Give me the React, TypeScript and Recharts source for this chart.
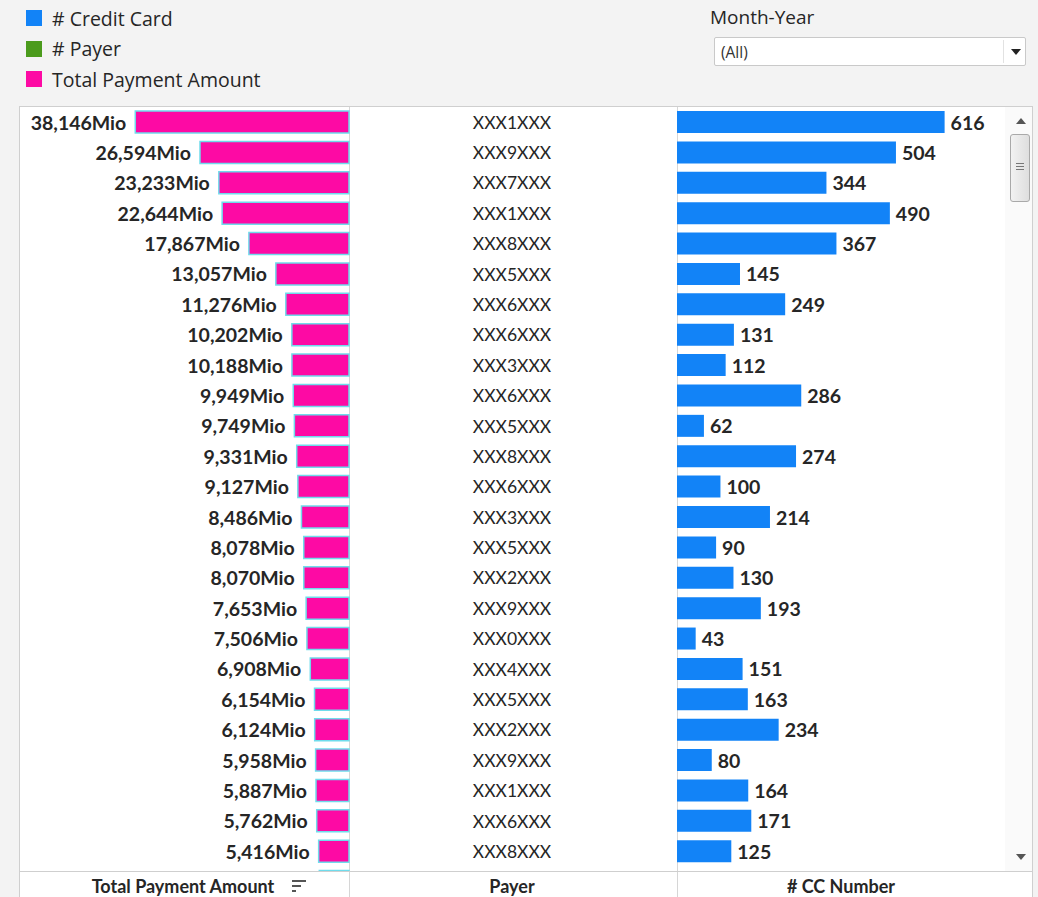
import React from "react";
import { BarChart, Bar, XAxis, YAxis, LabelList } from "recharts";

const payers = [
  "XXX1XXX", "XXX9XXX", "XXX7XXX", "XXX1XXX", "XXX8XXX", "XXX5XXX", "XXX6XXX",
  "XXX6XXX", "XXX3XXX", "XXX6XXX", "XXX5XXX", "XXX8XXX", "XXX6XXX", "XXX3XXX",
  "XXX5XXX", "XXX2XXX", "XXX9XXX", "XXX0XXX", "XXX4XXX", "XXX5XXX", "XXX2XXX",
  "XXX9XXX", "XXX1XXX", "XXX6XXX", "XXX8XXX", "",
];
// Total payment amount, in Mio
const paymentAmounts = [
  38146, 26594, 23233, 22644, 17867, 13057, 11276, 10202, 10188, 9949, 9749,
  9331, 9127, 8486, 8078, 8070, 7653, 7506, 6908, 6154, 6124, 5958, 5887, 5762,
  5416, 5300,
];
// # CC Number
const ccCounts = [
  616, 504, 344, 490, 367, 145, 249, 131, 112, 286, 62, 274, 100, 214, 90, 130,
  193, 43, 151, 163, 234, 80, 164, 171, 125, null,
];

const legendItems = [
  { label: "# Credit Card", color: "#1283f7" },
  { label: "# Payer", color: "#4b9b1c" },
  { label: "Total Payment Amount", color: "#fd0aa4" },
];

const headerLabels = ["Total Payment Amount", "Payer", "# CC Number"];

const rows = payers.map((p, i) => ({
  id: String(i),
  payer: p,
  amount: paymentAmounts[i],
  cc: ccCounts[i],
}));

const PINK = "#fd0aa4";
const CYAN = "#6fdcec";
const BLUE = "#1283f7";
const TEXT = "#262626";
const DATA_FONT = "Lato, 'Open Sans', sans-serif";
const UI_FONT = "'Open Sans', 'Noto Sans', sans-serif";

const CHART_H = 790;

const LeftLabel = (props: any) => {
  const { x, y, width, height, value, index } = props;
  if (value == null || !payers[index]) return null;
  const left = Math.min(x, x + width);
  return (
    <text
      x={left - 9}
      y={y + height / 2}
      textAnchor="end"
      dominantBaseline="central"
      fontFamily={DATA_FONT}
      fontWeight={700}
      fontSize={19.5}
      fill={TEXT}
    >
      {`${Number(value).toLocaleString("en-US")}Mio`}
    </text>
  );
};

const RightLabel = (props: any) => {
  const { x, y, width, height, value } = props;
  if (value == null) return null;
  const right = Math.max(x, x + width);
  return (
    <text
      x={right + 6}
      y={y + height / 2}
      textAnchor="start"
      dominantBaseline="central"
      fontFamily={DATA_FONT}
      fontWeight={700}
      fontSize={19.5}
      fill={TEXT}
    >
      {value}
    </text>
  );
};

const PayerTick = (props: any) => {
  const { y, payload } = props;
  const idx = Number(payload.value);
  if (!payers[idx]) return null;
  return (
    <text
      x={493}
      y={y}
      textAnchor="middle"
      dominantBaseline="central"
      fontFamily={DATA_FONT}
      fontSize={17.5}
      fill={TEXT}
    >
      {payers[idx]}
    </text>
  );
};

const SortIcon = () => (
  <svg width="14" height="12" style={{ position: "absolute", left: 292, top: 880 }}>
    <rect x="0" y="0" width="14" height="2" fill="#555" />
    <rect x="0" y="5" width="9" height="2" fill="#555" />
    <rect x="0" y="10" width="4" height="2" fill="#555" />
  </svg>
);

export default function App() {
  return (
    <div
      style={{
        position: "absolute",
        left: 0,
        top: 0,
        width: 1038,
        height: 897,
        background: "#f3f3f3",
        overflow: "hidden",
        fontFamily: UI_FONT,
      }}
    >
      {/* Legend */}
      {legendItems.map((it, i) => (
        <div
          key={it.label}
          style={{
            position: "absolute",
            left: 26,
            top: 6 + i * 30.5,
            height: 24,
            display: "flex",
            alignItems: "center",
          }}
        >
          <div style={{ width: 16, height: 16, background: it.color, marginRight: 10 }} />
          <span style={{ fontSize: 19.5, color: "#262626", whiteSpace: "nowrap" }}>{it.label}</span>
        </div>
      ))}

      {/* Filter */}
      <div style={{ position: "absolute", left: 710, top: 4, fontSize: 19, color: "#262626" }}>
        Month-Year
      </div>
      <div
        style={{
          position: "absolute",
          left: 714,
          top: 37,
          width: 312,
          height: 29,
          background: "#fff",
          border: "1px solid #c9c9c9",
          borderRadius: 2,
          boxSizing: "border-box",
        }}
      >
        <span style={{ position: "absolute", left: 6, top: 3, fontSize: 15.5, color: "#333" }}>(All)</span>
        <div style={{ position: "absolute", left: 288, top: 2, width: 1, height: 23, background: "#e2e2e2" }} />
        <svg width="10" height="6" style={{ position: "absolute", left: 296, top: 11 }}>
          <polygon points="0,0 10,0 5,6" fill="#222" />
        </svg>
      </div>

      {/* Table box */}
      <div
        style={{
          position: "absolute",
          left: 19,
          top: 106,
          width: 1014,
          height: 800,
          background: "#fff",
          border: "1px solid #cfcfcf",
          boxSizing: "border-box",
        }}
      />
      {/* Column separators */}
      <div style={{ position: "absolute", left: 349, top: 107, width: 1, height: 790, background: "#d6d6d6" }} />
      <div style={{ position: "absolute", left: 677, top: 107, width: 1, height: 790, background: "#d6d6d6" }} />

      {/* Rows (clipped viewport) */}
      <div
        style={{
          position: "absolute",
          left: 19,
          top: 107,
          width: 986,
          height: 764,
          overflow: "hidden",
        }}
      >
        <div style={{ position: "absolute", left: 0, top: 0 }}>
          <BarChart
            width={658}
            height={CHART_H}
            data={rows}
            layout="vertical"
            margin={{ top: 0, right: 0, bottom: 0, left: 0 }}
            barCategoryGap={0}
          >
            <XAxis type="number" domain={[0, 58900]} reversed hide />
            <YAxis
              type="category"
              dataKey="id"
              orientation="right"
              width={328}
              axisLine={false}
              tickLine={false}
              interval={0}
              tick={<PayerTick />}
            />
            <Bar
              dataKey="amount"
              fill={PINK}
              stroke={CYAN}
              strokeWidth={1.5}
              barSize={22}
              isAnimationActive={false}
            >
              <LabelList dataKey="amount" content={<LeftLabel />} />
            </Bar>
          </BarChart>
        </div>
        <div style={{ position: "absolute", left: 658, top: 0 }}>
          <BarChart
            width={328}
            height={CHART_H}
            data={rows}
            layout="vertical"
            margin={{ top: 0, right: 0, bottom: 0, left: 0 }}
          >
            <XAxis type="number" domain={[0, 755]} hide />
            <YAxis type="category" dataKey="id" hide />
            <Bar dataKey="cc" fill={BLUE} barSize={22} isAnimationActive={false}>
              <LabelList dataKey="cc" content={<RightLabel />} />
            </Bar>
          </BarChart>
        </div>
      </div>

      {/* Scrollbar */}
      <div style={{ position: "absolute", left: 1005, top: 107, width: 27, height: 764, background: "#fafafa" }}>
        <svg width="10" height="6" style={{ position: "absolute", left: 11, top: 11 }}>
          <polygon points="0,6 10,6 5,0" fill="#555" />
        </svg>
        <div
          style={{
            position: "absolute",
            left: 5,
            top: 27,
            width: 20,
            height: 68,
            border: "1px solid #a9a9a9",
            borderRadius: 3,
            background: "linear-gradient(to right, #f2f2f2, #dedede)",
            boxSizing: "border-box",
          }}
        >
          <div style={{ position: "absolute", left: 5, top: 28, width: 8, height: 1, background: "#777" }} />
          <div style={{ position: "absolute", left: 5, top: 31, width: 8, height: 1, background: "#777" }} />
          <div style={{ position: "absolute", left: 5, top: 34, width: 8, height: 1, background: "#777" }} />
        </div>
        <svg width="10" height="6" style={{ position: "absolute", left: 11, top: 747 }}>
          <polygon points="0,0 10,0 5,6" fill="#555" />
        </svg>
      </div>

      {/* Header row at bottom */}
      <div style={{ position: "absolute", left: 19, top: 871, width: 1014, height: 1, background: "#cfcfcf" }} />
      {[
        { label: headerLabels[0], left: 83, width: 200 },
        { label: headerLabels[1], left: 412, width: 200 },
        { label: headerLabels[2], left: 741, width: 200 },
      ].map((h) => (
        <div
          key={h.label}
          style={{
            position: "absolute",
            left: h.left,
            width: h.width,
            top: 876,
            height: 20,
            textAlign: "center",
            fontFamily: DATA_FONT,
            fontWeight: 700,
            fontSize: 18,
            lineHeight: "20px",
            whiteSpace: "nowrap",
            color: TEXT,
          }}
        >
          {h.label}
        </div>
      ))}
      <SortIcon />
    </div>
  );
}
